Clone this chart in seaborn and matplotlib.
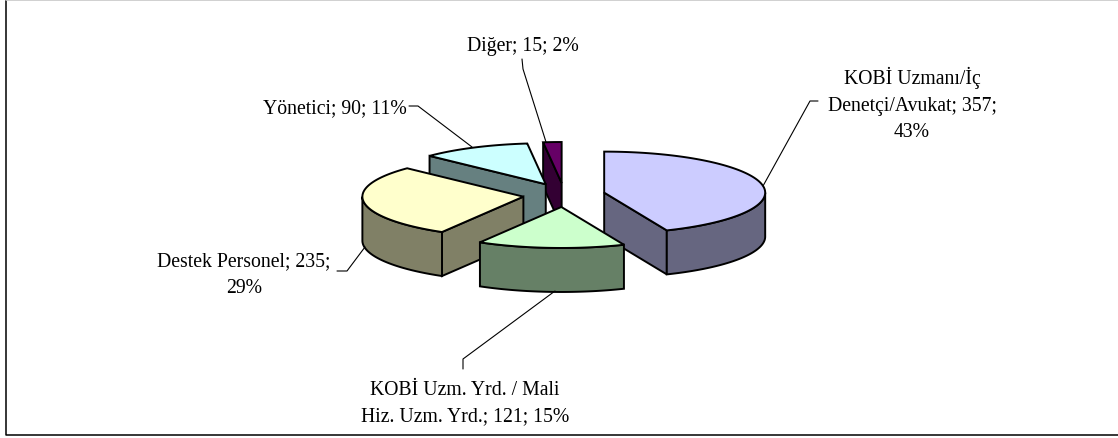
import numpy as np
import seaborn as sns
import matplotlib.pyplot as plt
from matplotlib.patches import Polygon

# dilim verileri (saat yonunde, tepeden baslar)
dilimler = ['KOBİ Uzmanı/İç\nDenetçi/Avukat; 357;\n43%',
            'KOBİ Uzm. Yrd. / Mali\nHiz. Uzm. Yrd.; 121; 15%',
            'Destek Personel; 235;\n29%',
            'Yönetici; 90; 11%',
            'Diğer; 15; 2%']
degerler = [357, 121, 235, 90, 15]
ust_renk = ['#CCCCFF', '#CCFFCC', '#FFFFCC', '#CCFFFF', '#660066']
yan_renk = ['#666680', '#668066', '#808066', '#668080', '#330033']

etiket_xy = [(912, 104.5), (465, 404), (244, 275), (334.5, 108.5), (522.5, 46.5)]
kilavuz_x = [[763, 810, 818], [555, 463, 463], [365, 347, 337], [472, 418, 409], [546, 523, 522]]
kilavuz_y = [[187, 102, 102], [292, 360, 370], [248, 272, 272], [148, 107, 107], [143, 70, 60]]

sns.set_theme(style='white')
plt.rcParams['font.family'] = ['Liberation Serif', 'DejaVu Serif']

fig, ax = plt.subplots(figsize=(11.18, 4.39), dpi=100)
ax.set_position([0, 0, 1, 1])
ax.set_xlim(0, 1118)
ax.set_ylim(439, 0)
ax.axis('off')

# cerceve
ax.plot([5.5, 5.5, 1118], [0.5, 436, 436], color='black', lw=1.1, clip_on=False)
ax.plot([5.5, 1118], [0.5, 0.5], color='#c8c8c8', lw=1.2)

cx, cy = 564, 196   # pasta merkezi
a, b = 161, 41      # elips yaricaplari
ex, ey = 41, 12     # dilim ayirma
derinlik = 44

oranlar = np.array(degerler) / sum(degerler) * 360
bitisler = np.cumsum(oranlar)
baslar = bitisler - oranlar


def nokta(x0, y0, aci):
    r = np.radians(aci)
    return x0 + a * np.sin(r), y0 - b * np.cos(r)


def ciz(i):
    bas, bit = baslar[i], bitisler[i]
    orta = np.radians((bas + bit) / 2)
    x0 = cx + ex * np.sin(orta)
    y0 = cy - ey * np.cos(orta)
    stil = dict(ec='black', lw=1.4, joinstyle='miter')

    p_bas = nokta(x0, y0, bas)
    p_bit = nokta(x0, y0, bit)
    # duz yan yuzler
    if 180 <= bas < 360:
        ax.add_patch(Polygon([(x0, y0), p_bas, (p_bas[0], p_bas[1] + derinlik), (x0, y0 + derinlik)],
                             fc=yan_renk[i], **stil))
    if 0 < bit <= 180:
        ax.add_patch(Polygon([(x0, y0), p_bit, (p_bit[0], p_bit[1] + derinlik), (x0, y0 + derinlik)],
                             fc=yan_renk[i], **stil))
    # on yay duvari
    on_bas, on_bit = max(bas, 90), min(bit, 270)
    if on_bas < on_bit:
        t = np.linspace(on_bas, on_bit, 80)
        ust = [nokta(x0, y0, k) for k in t]
        alt = [(x, y + derinlik) for x, y in ust[::-1]]
        ax.add_patch(Polygon(ust + alt, fc=yan_renk[i], **stil))
    # ust yuz
    t = np.linspace(bas, bit, 100)
    ax.add_patch(Polygon([(x0, y0)] + [nokta(x0, y0, k) for k in t], fc=ust_renk[i], **stil))


# arkadan one boyama sirasi
for i in [4, 3, 2, 0, 1]:
    ciz(i)

for i in range(len(dilimler)):
    ax.plot(kilavuz_x[i], kilavuz_y[i], color='black', lw=0.8)
    ax.text(etiket_xy[i][0], etiket_xy[i][1], dilimler[i], ha='center', va='center',
            fontsize=14.2, color='black', linespacing=1.52)

plt.savefig('out.png', dpi=100)
